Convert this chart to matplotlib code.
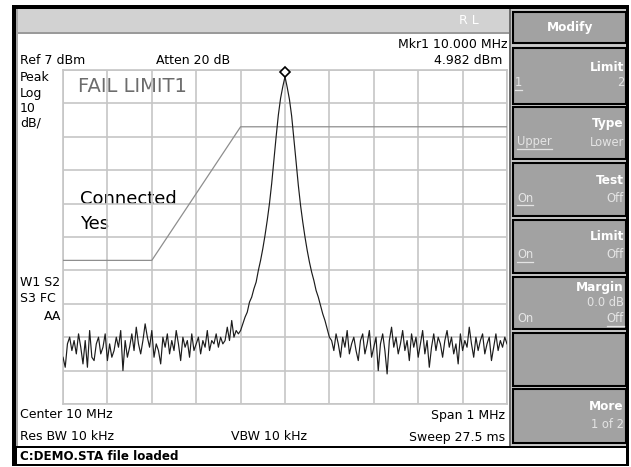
import numpy as np
import matplotlib
matplotlib.use("Agg")
import matplotlib.pyplot as plt
from matplotlib.patches import Rectangle
from matplotlib import transforms

W, H, DPI = 631, 467, 100

# Sweep settings
center_mhz = 10.0
span_mhz = 1.0
ref_level_dbm = 7.0
db_per_div = 10.0
n_div = 10

# Measured trace (dBm), 201 sweep points across the span
trace_dbm = [
    -79, -82, -75, -73, -77, -74, -78, -72, -76, -81,
    -74, -82, -71, -79, -80, -75, -73, -78, -76, -72,
    -80, -75, -79, -77, -73, -76, -71, -83, -74, -79,
    -76, -72, -77, -70, -75, -78, -74, -69, -73, -76,
    -71, -79, -75, -77, -81, -73, -76, -72, -78, -74,
    -77, -71, -75, -80, -73, -76, -74, -79, -72, -77,
    -75, -73, -78, -74, -76, -71, -77, -74, -75, -72,
    -76, -73, -75, -74, -70, -74, -68, -73, -71, -72,
    -71, -69, -67, -65.5, -62.5, -61, -58.5, -56.5, -53, -50,
    -46.5, -42.5, -38, -33, -27, -20, -13, -6.5, -1.5, 2.0,
    4.982,
    1.8, -1.8, -6.8, -13.5, -20.5, -27.5, -33.5, -38.5, -43, -47,
    -50.5, -53.5, -56, -59, -61, -63.5, -66, -68, -70.5, -73,
    -74, -77, -72, -75, -79, -73, -76, -71, -78, -75,
    -73, -77, -80, -74, -72, -78, -75, -71, -79, -76,
    -73, -83, -75, -72, -77, -84, -74, -70, -76, -73,
    -78, -75, -71, -77, -74, -80, -72, -76, -73, -79,
    -75, -71, -78, -74, -82, -76, -72, -77, -73, -75,
    -79, -74, -71, -76, -73, -78, -75, -81, -72, -77,
    -74, -76, -70, -75, -79, -73, -77, -74, -72, -78,
    -75, -73, -80, -76, -72, -77, -74, -76, -73, -75,
]

# Upper limit line (LIMIT1)
limit_freq_mhz = [9.5, 9.7, 9.9, 10.5]
limit_dbm = [-50, -50, -10, -10]

# Marker 1
marker_freq_mhz = 10.000
marker_dbm = 4.982

start_mhz = center_mhz - span_mhz / 2
stop_mhz = center_mhz + span_mhz / 2
freq_mhz = np.linspace(start_mhz, stop_mhz, len(trace_dbm))
bottom_dbm = ref_level_dbm - n_div * db_per_div

FONT = "DejaVu Sans"

fig = plt.figure(figsize=(W / DPI, H / DPI), dpi=DPI)
fig.patch.set_facecolor("white")

# Pixel-space canvas for the instrument frame and annotations
bg = fig.add_axes([0, 0, 1, 1])
bg.set_xlim(0, W)
bg.set_ylim(H, 0)
bg.axis("off")


def box(x0, y0, x1, y1, fc, ec="none", lw=0, z=1):
    bg.add_patch(Rectangle((x0, y0), x1 - x0, y1 - y0, facecolor=fc,
                           edgecolor=ec, linewidth=lw, zorder=z))


def label(x, y, s, ha="left", size=9, color="black", weight="normal", z=5):
    return bg.text(x, y, s, ha=ha, va="center", fontsize=size, color=color,
                   fontweight=weight, family=FONT, zorder=z)


# Outer frame and panels
box(12, 5, 629, 466, "black", z=0)
box(16, 9, 510, 32, "#d2d2d2")
box(16, 32, 510, 33.5, "#9a9a9a")
box(16, 33.5, 509, 446, "white")
box(16, 9, 17.5, 446, "#a8a8a8", z=2)
box(509, 9, 511, 446, "#6e6e6e")
box(511, 9, 626, 446, "#c9c9c9")
box(17, 448, 626, 464, "white")

# Header
label(469, 20, "R L", ha="center", size=9, color="white")

# Softkeys
key_fc = "#a2a2a2"
keys = [(12, 43), (48, 104), (107, 159), (163, 216), (220, 273),
        (277, 329), (333, 386), (389, 443)]
for top, bot in keys:
    box(512.5, top, 625.5, bot, key_fc, ec="black", lw=1.5, z=3)

KW = dict(color="white", weight="bold", size=8.7)
SUB = dict(color="#e4e4e4", size=8.3)
RX, LX = 624, 515

label(570, 27.5, "Modify", ha="center", **KW)
label(RX, 67.5, "Limit", ha="right", **KW)
u1 = label(LX, 83, "1", **SUB)
label(RX, 83, "2", ha="right", **SUB)
label(RX, 123, "Type", ha="right", **KW)
u2 = label(LX + 2, 142, "Upper", **SUB)
label(RX, 142, "Lower", ha="right", **SUB)
label(RX, 180, "Test", ha="right", **KW)
u3 = label(LX + 2, 198, "On", **SUB)
label(RX, 198, "Off", ha="right", **SUB)
label(RX, 237, "Limit", ha="right", **KW)
u4 = label(LX + 2, 255, "On", **SUB)
label(RX, 255, "Off", ha="right", **SUB)
label(RX, 287, "Margin", ha="right", **KW)
label(RX, 303, "0.0 dB", ha="right", **SUB)
label(LX + 2, 319, "On", **SUB)
u5 = label(RX, 319, "Off", ha="right", **SUB)
label(RX, 407, "More", ha="right", **KW)
label(RX, 425, "1 of 2", ha="right", **SUB)

# Annotation text on the measurement screen
label(20, 61, "Ref 7 dBm")
label(156, 61, "Atten 20 dB")
label(507, 44, "Mkr1 10.000 MHz", ha="right")
label(502, 61, "4.982 dBm", ha="right")
label(20, 77.5, "Peak")
label(20, 93, "Log")
label(20, 108, "10")
label(20, 123, "dB/")
label(20, 282, "W1 S2")
label(20, 298, "S3 FC")
label(61, 317, "AA", ha="right")
label(20, 415, "Center 10 MHz")
label(505, 415, "Span 1 MHz", ha="right")
label(20, 437, "Res BW 10 kHz")
label(231, 437, "VBW 10 kHz")
label(505, 437, "Sweep 27.5 ms", ha="right")
label(20, 456, "C:DEMO.STA file loaded", weight="bold", size=8.6)
label(78, 86, "FAIL LIMIT1", size=14, color="#6c6c6c", z=6)
label(80, 199, "Connected", size=13, z=6)
label(80, 224, "Yes", size=13, z=6)

# Graticule and traces
ax = fig.add_axes([63 / W, 1 - 404 / H, 444 / W, 334 / H])
ax.set_facecolor("none")
ax.set_xlim(start_mhz, stop_mhz)
ax.set_ylim(bottom_dbm, ref_level_dbm)
ax.set_xticks(np.linspace(start_mhz, stop_mhz, n_div + 1))
ax.set_yticks(np.linspace(bottom_dbm, ref_level_dbm, n_div + 1))
ax.tick_params(length=0, labelbottom=False, labelleft=False)
ax.grid(True, color="#c6c6c6", linewidth=1.2)
ax.set_axisbelow(True)
for sp in ax.spines.values():
    sp.set_color("#c6c6c6")
    sp.set_linewidth(1.2)

ax.plot(limit_freq_mhz, limit_dbm, color="#8e8e8e", linewidth=0.9, zorder=3)
ax.plot(freq_mhz, trace_dbm, color="#1c1c1c", linewidth=0.85, zorder=4)
mk_tr = transforms.offset_copy(ax.transData, fig=fig, x=0, y=5, units="dots")
ax.plot([marker_freq_mhz], [marker_dbm], marker="D", markersize=5,
        markerfacecolor="white", markeredgecolor="black", markeredgewidth=1.2,
        transform=mk_tr, clip_on=False, zorder=6)

# Underline the active softkey choices
fig.canvas.draw()
inv = bg.transData.inverted()
for t in (u1, u2, u3, u4, u5):
    bb = t.get_window_extent()
    (x0, _), (x1, y1) = inv.transform([(bb.x0, bb.y0), (bb.x1, bb.y0)])
    bg.plot([x0, x1], [y1 + 0.5, y1 + 0.5], color="#e4e4e4", linewidth=0.9,
            zorder=5)

fig.savefig("out.png", dpi=DPI)
